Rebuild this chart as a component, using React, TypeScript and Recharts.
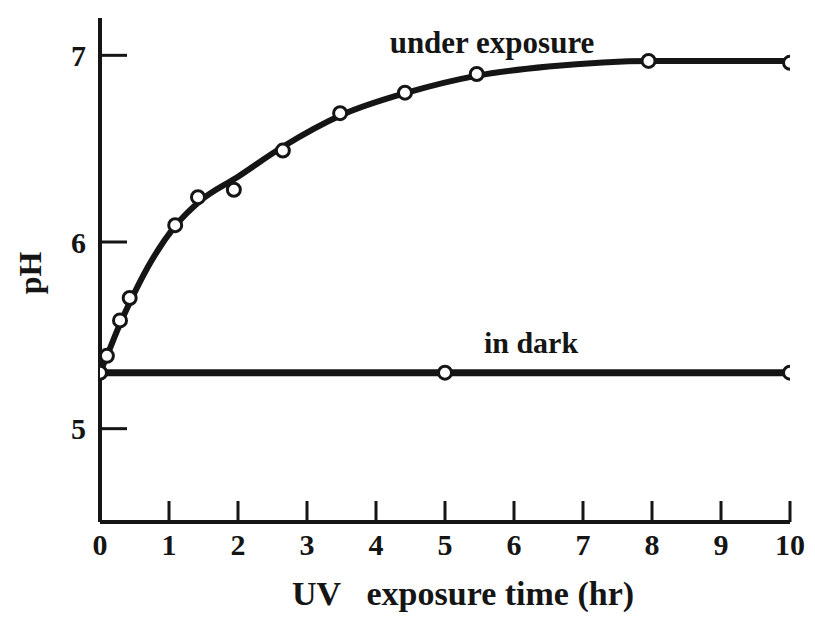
import { ComposedChart, Line, Scatter, XAxis, YAxis, Label } from "recharts";

// pH vs UV exposure time
// measured points under exposure
const hoursExposed = [0, 0.1, 0.29, 0.43, 1.09, 1.42, 1.94, 2.65, 3.48, 4.42, 5.46, 7.95, 10];
const phExposed = [5.3, 5.39, 5.58, 5.7, 6.09, 6.24, 6.28, 6.49, 6.69, 6.8, 6.9, 6.97, 6.96];
// the hand-drawn smooth curve through them, read at a few places
const hoursCurve = [0, 0.1, 0.3, 0.45, 0.7, 1.1, 1.45, 2, 2.65, 3.5, 4.45, 5.45, 6.5, 8, 10];
const phCurve = [5.3, 5.39, 5.57, 5.69, 5.87, 6.09, 6.22, 6.35, 6.51, 6.68, 6.8, 6.89, 6.94, 6.97, 6.97];
// in dark
const hoursDark = [0, 5, 10];
const phDark = [5.3, 5.3, 5.3];

const xTicks = [0, 1, 2, 3, 4, 5, 6, 7, 8, 9, 10];
const yTicks = [5, 6, 7];

const INK = "#151515";
const FONT = "'Liberation Serif', 'DejaVu Serif', serif";

const exposedRows = hoursExposed.map((t, i) => ({ t, ph: phExposed[i] }));
const curveRows = hoursCurve.map((t, i) => ({ t, ph: phCurve[i] }));
const darkRows = hoursDark.map((t, i) => ({ t, ph: phDark[i] }));

const dotStyle = { r: 6.5, fill: "#fff", stroke: INK, strokeWidth: 3 };

const OpenCircle = (p: any) => (
  <circle cx={p.cx} cy={p.cy} r={6.5} fill="#fff" stroke={INK} strokeWidth={3} />
);

// ticks point inward in the original, so draw them with the label
const YTick = ({ x, y, payload }: any) => (
  <g>
    <line x1={x + 14} x2={x + 41} y1={y} y2={y} stroke={INK} strokeWidth={3} />
    <text
      x={x}
      y={y}
      dy="0.35em"
      textAnchor="end"
      fontSize={30}
      fontWeight="bold"
      fontFamily={FONT}
      fill={INK}
    >
      {payload.value}
    </text>
  </g>
);

const XTick = ({ x, y, payload }: any) => (
  <g>
    {payload.value !== 0 && (
      <line x1={x} x2={x} y1={y - 12} y2={y - 33} stroke={INK} strokeWidth={3} />
    )}
    <text
      x={x}
      y={y}
      dy="0.71em"
      textAnchor="middle"
      fontSize={30}
      fontWeight="bold"
      fontFamily={FONT}
      fill={INK}
    >
      {payload.value}
    </text>
  </g>
);

const App = () => {
  return (
    <div style={{ position: "relative", width: 807, height: 610, background: "#fff" }}>
      <ComposedChart
        width={807}
        height={610}
        margin={{ top: 10, right: 25, left: 0, bottom: 0 }}
      >
        <XAxis
          type="number"
          dataKey="t"
          domain={[0, 10]}
          ticks={xTicks}
          height={96}
          tickSize={0}
          tickMargin={12}
          tick={<XTick />}
          axisLine={{ stroke: INK, strokeWidth: 4 }}
          allowDataOverflow
        >
          <Label
            content={({ viewBox }: any) => (
              <text
                x={viewBox.x + viewBox.width / 2 + 18}
                y={viewBox.y + viewBox.height - 13}
                textAnchor="middle"
                fontSize={34}
                fontWeight="bold"
                fontFamily={FONT}
                fill={INK}
              >
                {"UV\u00A0\u00A0 exposure time (hr)"}
              </text>
            )}
          />
        </XAxis>
        <YAxis
          type="number"
          domain={[4.5, 7.2]}
          ticks={yTicks}
          width={92}
          tickSize={0}
          tickMargin={14}
          tick={<YTick />}
          axisLine={{ stroke: INK, strokeWidth: 4 }}
          allowDataOverflow
        >
          <Label
            content={() => (
              <text
                x={22}
                y={265}
                dy="0.35em"
                textAnchor="middle"
                transform="rotate(-90, 22, 265)"
                fontSize={32}
                fontWeight="bold"
                fontFamily={FONT}
                fill={INK}
              >
                pH
              </text>
            )}
          />
        </YAxis>
        <Line
          data={darkRows}
          dataKey="ph"
          type="linear"
          stroke={INK}
          strokeWidth={7}
          dot={dotStyle}
          activeDot={false}
          isAnimationActive={false}
        />
        <Line
          data={curveRows}
          dataKey="ph"
          type="monotone"
          stroke={INK}
          strokeWidth={6}
          dot={false}
          activeDot={false}
          isAnimationActive={false}
        />
        <Scatter
          data={exposedRows}
          dataKey="ph"
          shape={OpenCircle}
          isAnimationActive={false}
        />
      </ComposedChart>
      <svg
        width={807}
        height={610}
        style={{ position: "absolute", left: 0, top: 0, pointerEvents: "none" }}
      >
        <text
          x={484}
          y={34}
          dy="0.35em"
          textAnchor="middle"
          fontSize={31}
          fontWeight="bold"
          fontFamily={FONT}
          fill={INK}
        >
          under exposure
        </text>
        <text
          x={523}
          y={334}
          dy="0.35em"
          textAnchor="middle"
          fontSize={30}
          fontWeight="bold"
          fontFamily={FONT}
          fill={INK}
        >
          in dark
        </text>
      </svg>
    </div>
  );
};

export default App;
